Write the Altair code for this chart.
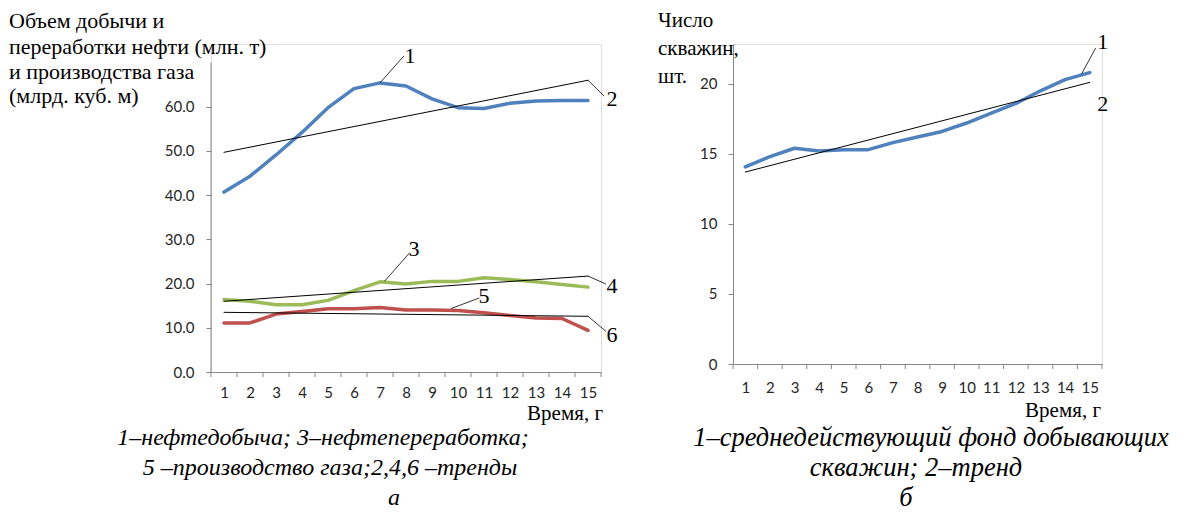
import altair as alt
import pandas as pd

# ---------------- data ----------------
years = list(range(1, 16))
oil = [40.7, 44.3, 49.1, 54.2, 59.8, 64.1, 65.4, 64.7, 61.8, 59.8, 59.6, 60.8, 61.3, 61.4, 61.4]
refining = [16.4, 16.0, 15.2, 15.2, 16.2, 18.4, 20.4, 19.9, 20.5, 20.5, 21.3, 20.9, 20.4, 19.8, 19.2]
gas = [11.1, 11.1, 13.1, 13.7, 14.3, 14.3, 14.6, 14.0, 14.0, 13.9, 13.4, 12.8, 12.2, 12.1, 9.4]
wells = [14.07, 14.8, 15.4, 15.2, 15.3, 15.3, 15.8, 16.2, 16.6, 17.2, 17.9, 18.6, 19.5, 20.3, 20.8]

trend_years = [1, 15]
oil_trend = [49.7, 66.0]
refining_trend = [16.0, 21.7]
gas_trend = [13.5, 12.6]
wells_trend = [13.7, 20.1]

left_y_ticks = [0, 10, 20, 30, 40, 50, 60]
right_y_ticks = [0, 5, 10, 15, 20]
band_edges = [0.5 + i for i in range(16)]

left_title = ["Объем добычи и", "переработки нефти (млн. т)", "и производства газа", "(млрд. куб. м)"]
right_title = ["Число", "скважин,", "шт."]
x_title = "Время, г"
left_caption = ["1–нефтедобыча; 3–нефтепереработка;", "5 –производство газа;2,4,6 –тренды", "а"]
right_caption = ["1–среднедействующий фонд добывающих", "скважин; 2–тренд", "б"]

# callout labels (label, x, y) and leaders (x, y, x2, y2) in data units
left_labels = [("1", 8.15, 71.5), ("2", 15.92, 61.7), ("3", 8.31, 27.8),
               ("4", 15.92, 19.4), ("5", 11.0, 17.1), ("6", 15.92, 8.3)]
left_leaders = [(7, 65.4, 7.92, 71.5), (15, 66.0, 15.62, 62.4), (7.17, 20.5, 8.13, 26.9),
                (15, 21.7, 15.69, 19.9), (9.73, 14.35, 10.82, 16.75), (15, 12.6, 15.69, 9.2)]
right_labels = [("1", 15.53, 22.98), ("2", 15.53, 18.55)]
right_leaders = [(14.67, 20.7, 15.24, 22.55)]

BLUE = "#4F81BD"
GREEN = "#9BBB59"
RED = "#C0504D"
GREY = "#868686"
LABEL_COLOR = "#262626"
SANS = "Lato"
SERIF = "Liberation Serif"

WL, HL = 390, 328
WR, HR = 369, 320

xs_l = alt.Scale(domain=[0.5, 15.5], nice=False, zero=False)
ys_l = alt.Scale(domain=[0, 74.2], nice=False, zero=False)
xs_r = alt.Scale(domain=[0.5, 15.5], nice=False, zero=False)
ys_r = alt.Scale(domain=[0, 22.84], nice=False, zero=False)


def x_axis(pad):
    return alt.Axis(values=years, format="d", ticks=False, tickSize=0, grid=False,
                    domain=True, domainColor=GREY, domainWidth=1, labelPadding=pad,
                    labelFont=SANS, labelFontSize=15, labelColor=LABEL_COLOR, title=None)


ax_xl = x_axis(13)
ax_xr = x_axis(16)
ax_yl = alt.Axis(values=left_y_ticks, format=".1f", domain=False, ticks=True, tickSize=5,
                 tickColor=GREY, grid=False, labelPadding=12, labelFont=SANS,
                 labelFontSize=15, labelColor=LABEL_COLOR, title=None)
ax_yr = alt.Axis(values=right_y_ticks, format="d", domain=True, domainColor=GREY, ticks=True,
                 tickSize=5, tickColor=GREY, grid=False, labelPadding=11, labelFont=SANS,
                 labelFontSize=15, labelColor=LABEL_COLOR, title=None)


def series_line(xv, yv, color, width, xs, ys, axx, axy):
    df = pd.DataFrame({"x": xv, "y": yv})
    return alt.Chart(df).mark_line(color=color, strokeWidth=width, strokeJoin="round",
                                   strokeCap="round").encode(
        x=alt.X("x:Q", scale=xs, axis=axx), y=alt.Y("y:Q", scale=ys, axis=axy))


def text_px(s, px, py, size, font=SERIF, align="left", italic=False, baseline="middle"):
    kw = dict(font=font, fontSize=size, align=align, baseline=baseline, color="black")
    if italic:
        kw["fontStyle"] = "italic"
    return alt.Chart(pd.DataFrame({"t": [s]})).mark_text(**kw).encode(
        text="t:N", x=alt.value(px), y=alt.value(py))


def edge_ticks(xs, axx, h):
    return alt.Chart(pd.DataFrame({"b": band_edges})).mark_rule(color=GREY, strokeWidth=1).encode(
        x=alt.X("b:Q", scale=xs, axis=axx), y=alt.value(h), y2=alt.value(h + 5))


def leaders(rows, xs, ys, axx, axy):
    df = pd.DataFrame(rows, columns=["x", "y", "x2", "y2"])
    return alt.Chart(df).mark_rule(color="black", strokeWidth=0.8).encode(
        x=alt.X("x:Q", scale=xs, axis=axx), y=alt.Y("y:Q", scale=ys, axis=axy),
        x2="x2:Q", y2="y2:Q")


def callouts(rows, xs, ys, axx, axy):
    df = pd.DataFrame(rows, columns=["t", "x", "y"])
    return alt.Chart(df).mark_text(font=SERIF, fontSize=22, color="black",
                                   align="center", baseline="middle").encode(
        text="t:N", x=alt.X("x:Q", scale=xs, axis=axx), y=alt.Y("y:Q", scale=ys, axis=axy))


# ---------------- left panel ----------------
left_layers = [
    alt.Chart(pd.DataFrame({"t": ["."]})).mark_text(opacity=0, fontSize=1, align="left",
                                                   baseline="top").encode(
        text="t:N", x=alt.value(-202), y=alt.value(-35)),
    edge_ticks(xs_l, ax_xl, HL),
    alt.Chart(pd.DataFrame({"x": [0.5], "y": [0], "y2": [70]})).mark_rule(color=GREY, strokeWidth=1).encode(
        x=alt.X("x:Q", scale=xs_l, axis=ax_xl), y=alt.Y("y:Q", scale=ys_l, axis=ax_yl), y2="y2:Q"),
    series_line(years, oil, BLUE, 3.5, xs_l, ys_l, ax_xl, ax_yl),
    series_line(years, refining, GREEN, 3.5, xs_l, ys_l, ax_xl, ax_yl),
    series_line(years, gas, RED, 3.5, xs_l, ys_l, ax_xl, ax_yl),
    series_line(trend_years, oil_trend, "black", 1, xs_l, ys_l, ax_xl, ax_yl),
    series_line(trend_years, refining_trend, "black", 1, xs_l, ys_l, ax_xl, ax_yl),
    series_line(trend_years, gas_trend, "black", 1, xs_l, ys_l, ax_xl, ax_yl),
    leaders(left_leaders, xs_l, ys_l, ax_xl, ax_yl),
    callouts(left_labels, xs_l, ys_l, ax_xl, ax_yl),
    text_px(x_title, 392, 370, 21, align="right"),
]
for s, yy in zip(left_title, [-23, 3, 28, 52]):
    left_layers.append(text_px(s, -202, yy, 22))
for s, (cx, cy) in zip(left_caption, [(112, 394), (119, 424), (183, 454)]):
    left_layers.append(text_px(s, cx, cy, 24, align="center", italic=True))

left = alt.layer(*left_layers).properties(width=WL, height=HL)

# ---------------- right panel ----------------
right_layers = [
    edge_ticks(xs_r, ax_xr, HR),
    series_line(years, wells, BLUE, 3.5, xs_r, ys_r, ax_xr, ax_yr),
    series_line(trend_years, wells_trend, "black", 1, xs_r, ys_r, ax_xr, ax_yr),
    leaders(right_leaders, xs_r, ys_r, ax_xr, ax_yr),
    callouts(right_labels, xs_r, ys_r, ax_xr, ax_yr),
    text_px(x_title, 368, 367, 21, align="right"),
]
for s, yy in zip(right_title, [-23, 5, 33]):
    right_layers.append(text_px(s, -75, yy, 21))
for s, (cx, cy) in zip(right_caption, [(198, 394), (183, 424), (173, 454)]):
    right_layers.append(text_px(s, cx, cy, 26.5, align="center", italic=True))

right = alt.layer(*right_layers).properties(width=WR, height=HR)

chart = alt.hconcat(left, right, spacing=132, bounds="flush").properties(
    padding=0
).configure_view(stroke=None).configure(background="white")

chart.save("out.html", embed_options={"renderer": "svg", "actions": False})
